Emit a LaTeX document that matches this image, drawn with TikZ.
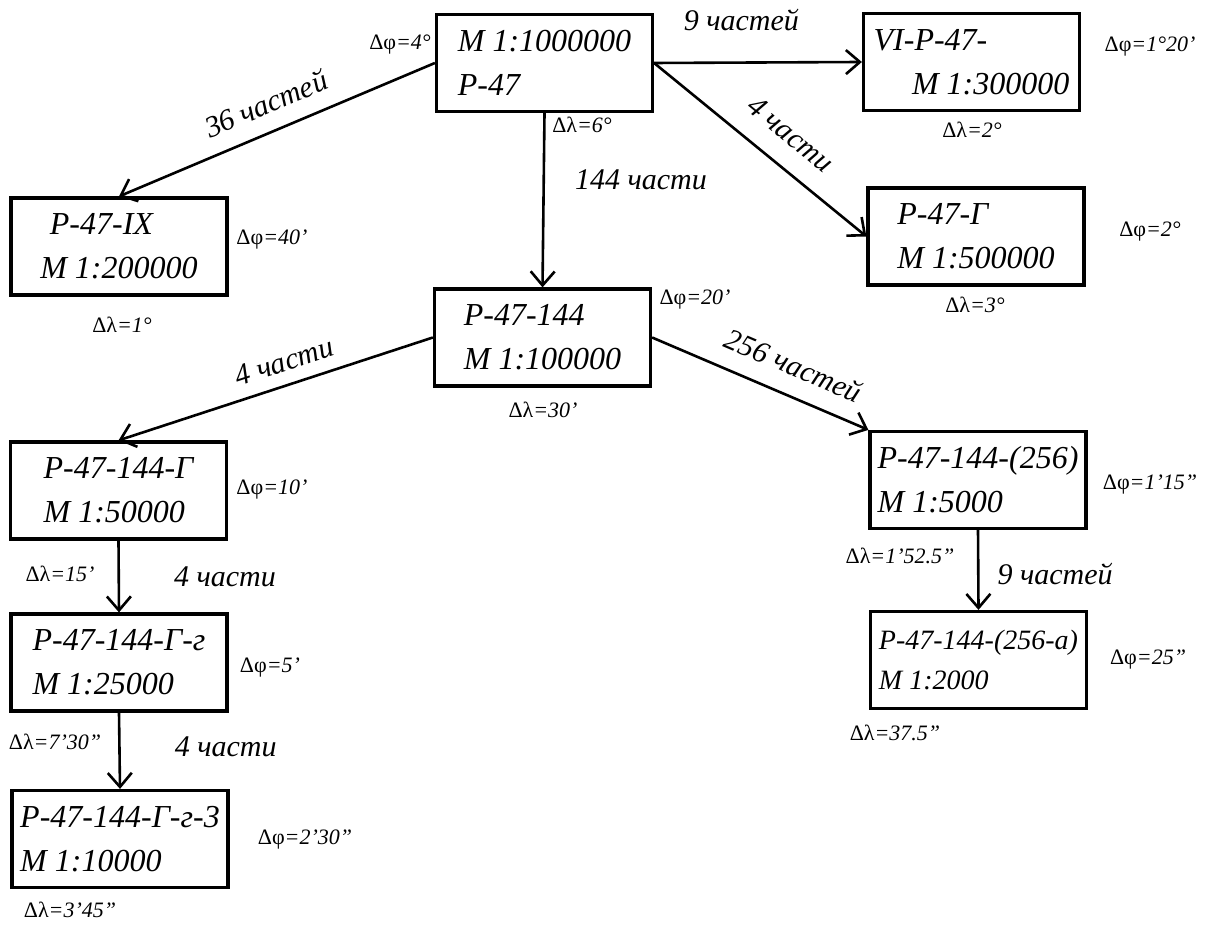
\documentclass[tikz,border=0pt]{standalone}
\usepackage{fontspec}
\setmainfont{Liberation Serif}
\usetikzlibrary{arrows.meta}
\begin{document}
\begin{tikzpicture}[x=0.5pt,y=-0.5pt,
  mapbox/.style={draw,line width=1.6pt,minimum width=108pt,minimum height=48.5pt,
    align=left,inner sep=2pt,font=\fontsize{16}{22}\selectfont\itshape},
  conn/.style={line width=1.3pt,-{Straight Barb[length=7pt,width=12pt,line width=1.3pt]}},
  clab/.style={font=\fontsize{15}{18}\selectfont\itshape,inner sep=1pt},
  dlab/.style={font=\fontsize{11}{13}\selectfont\itshape,inner sep=0pt}]
\useasboundingbox (0,0) rectangle (1219,929);
% boxes
\node[mapbox] (A) at (544.5,63) {М 1:1000000\\Р-47};
\node[mapbox] (B) at (971.5,62) {VI-Р-47-\\\hspace*{1.2em}М 1:300000};
\node[mapbox] (C) at (976,236.5) {Р-47-Г\\М 1:500000};
\node[mapbox] (D) at (119,246.5) {\hspace*{0.3em}Р-47-IX\\М 1:200000};
\node[mapbox] (E) at (542.5,337.5) {Р-47-144\\М 1:100000};
\node[mapbox] (F) at (118.5,490.5) {Р-47-144-Г\\М 1:50000};
\node[mapbox] (G) at (119,662.5) {Р-47-144-Г-г\\М 1:25000};
\node[mapbox] (H) at (120,839) {Р-47-144-Г-г-3\\М 1:10000};
\node[mapbox] (I) at (978,480) {Р-47-144-(256)\\М 1:5000};
\node[mapbox,font=\fontsize{14}{20}\selectfont\itshape] (J) at (978.5,660) {Р-47-144-(256-а)\\М 1:2000};
% connectors
\draw[conn] (A.east) -- node[clab,pos=0.42,above=14pt] {9 частей} (B.west);
\draw[conn] (A.east) -- node[clab,sloped,pos=0.55,above=9pt] {4 части} (C.west);
\draw[conn] (A.west) -- node[clab,sloped,pos=0.5,above=7pt] {36 частей} (D.north);
\draw[conn] (A.south) -- node[clab,pos=0.38,right=14pt] {144 части} (E.north);
\draw[conn] (E.west) -- node[clab,sloped,pos=0.45,above=5pt] {4 части} (F.north);
\draw[conn] (E.east) -- node[clab,sloped,pos=0.6,above=8pt] {256 частей} (I.north west);
\draw[conn] (F.south) -- node[clab,pos=0.5,right=26pt] {4 части} (G.north);
\draw[conn] (G.south) -- node[clab,pos=0.45,right=26pt] {4 части} (H.north);
\draw[conn] (I.south) -- node[clab,pos=0.55,right=8pt] {9 частей} (J.north);
% delta labels
\node[dlab] (Aphi) at (400,45) {{\upshape Δφ}=4°};
\node[dlab] (Alam) at (582,125) {{\upshape Δλ}=6°};
\node[dlab] (Bphi) at (1150,47) {{\upshape Δφ}=1°20'};
\node[dlab] (Blam) at (972,130) {{\upshape Δλ}=2°};
\node[dlab] (Cphi) at (1150,232) {{\upshape Δφ}=2°};
\node[dlab] (Clam) at (975,305) {{\upshape Δλ}=3°};
\node[dlab] (Dphi) at (272,240) {{\upshape Δφ}=40'};
\node[dlab] (Dlam) at (122,325) {{\upshape Δλ}=1°};
\node[dlab] (Ephi) at (695,300) {{\upshape Δφ}=20'};
\node[dlab] (Elam) at (543,410) {{\upshape Δλ}=30'};
\node[dlab] (Fphi) at (272,490) {{\upshape Δφ}=10'};
\node[dlab] (Flam) at (60,574) {{\upshape Δλ}=15'};
\node[dlab] (Gphi) at (270,668) {{\upshape Δφ}=5'};
\node[dlab] (Glam) at (55,742) {{\upshape Δλ}=7'30''};
\node[dlab] (Hphi) at (305,840) {{\upshape Δφ}=2'30''};
\node[dlab] (Hlam) at (70,910) {{\upshape Δλ}=3'45''};
\node[dlab] (Iphi) at (1150,485) {{\upshape Δφ}=1'15''};
\node[dlab] (Ilam) at (900,556) {{\upshape Δλ}=1'52.5''};
\node[dlab] (Jphi) at (1148,660) {{\upshape Δφ}=25''};
\node[dlab] (Jlam) at (895,733) {{\upshape Δλ}=37.5''};
\end{tikzpicture}
\end{document}
